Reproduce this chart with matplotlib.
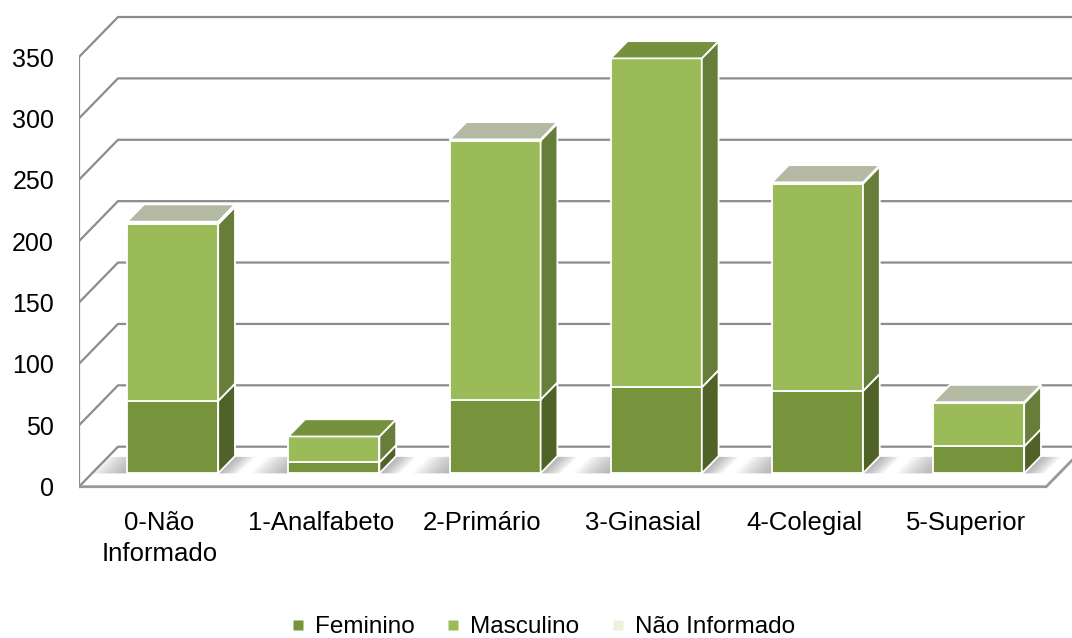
import matplotlib
matplotlib.use('Agg')
import matplotlib.pyplot as plt
from matplotlib.patches import Polygon, Rectangle
from matplotlib.lines import Line2D

# ---------------- data ----------------
categories = ['0-Não\nInformado', '1-Analfabeto', '2-Primário', '3-Ginasial', '4-Colegial', '5-Superior']
feminino = [59, 9, 60, 70, 67, 22]
masculino = [144, 21, 211, 268, 169, 35]
nao_informado = [2, 0, 1, 0, 1, 1]
series_names = ['Feminino', 'Masculino', 'Não Informado']
yticks = [0, 50, 100, 150, 200, 250, 300, 350]

# ---------------- style ----------------
FONT = 'Liberation Sans'
plt.rcParams['font.family'] = [FONT, 'DejaVu Sans']

front_cols = ['#77933C', '#9BBB59', '#EBF1DE']
side_cols = ['#4F6228', '#677D3A', '#C9CEBA']
top_cols = ['#6B8536', '#76913D', '#B4B9A4']
grid_col = '#8C8C8C'

W, H = 1072, 638
PXX = 161.2      # pixels per category unit
PXY = 1.2277     # pixels per value unit
DX = 39 / PXX    # wall depth (x)
DY = 40 / PXY    # wall depth (y, value units)
F0 = 0.335       # bar front position (fraction of depth)
BD = 0.43        # bar depth (fraction of depth)
BW = 0.565       # bar width
n = len(categories)

fig = plt.figure(figsize=(W / 100, H / 100), dpi=100)
left_px, right_px, top_px, bot_px, zero_px = 79, 1072, 0, 494, 486.7
ax = fig.add_axes([left_px / W, (H - bot_px) / H, (right_px - left_px) / W, (bot_px - top_px) / H])
ax.set_xlim(-0.5, -0.5 + (right_px - left_px) / PXX)
ax.set_ylim(-(bot_px - zero_px) / PXY, (zero_px - top_px) / PXY)
for s in ax.spines.values():
    s.set_visible(False)

xmax = ax.get_xlim()[1] + 1
# back wall gridlines (with diagonal on left wall)
for v in yticks:
    ax.plot([-0.5, -0.5 + DX, xmax], [v, v + DY, v + DY], color=grid_col, lw=1.6,
            solid_joinstyle='miter', zorder=1)
# left wall front edge
ax.plot([-0.5, -0.5], [yticks[0], yticks[-1]], color=grid_col, lw=1.6, zorder=1)
# floor front edge
ax.plot([-0.5, n - 0.5, n - 0.5 + DX], [0, 0, DY], color='#999999', lw=2.0,
        solid_joinstyle='miter', zorder=1)

bdx, bdy = BD * DX, BD * DY
for i in range(n):
    x0 = i - BW / 2 + F0 * DX
    base = F0 * DY
    # soft shadow on the floor
    for k in range(12):
        el = 0.01 + k * 0.02
        er = 0.004 + k * 0.011
        poly = [(x0 - el, base), (x0 + BW + er, base),
                (x0 + BW + er + bdx, base + bdy * 0.95), (x0 - el + bdx, base + bdy * 0.95)]
        ax.add_patch(Polygon(poly, closed=True, facecolor='#6e6e6e', edgecolor='none',
                             alpha=0.055, zorder=2))
    vals = [feminino[i], masculino[i], nao_informado[i]]
    y = base
    last = max(j for j in range(3) if vals[j] > 0)
    for j, v in enumerate(vals):
        if v <= 0:
            continue
        yb, yt = y, y + v
        ax.add_patch(Rectangle((x0, yb), BW, v, facecolor=front_cols[j], edgecolor='white',
                               lw=1.3, zorder=3))
        side = [(x0 + BW, yb), (x0 + BW + bdx, yb + bdy), (x0 + BW + bdx, yt + bdy), (x0 + BW, yt)]
        ax.add_patch(Polygon(side, closed=True, facecolor=side_cols[j], edgecolor='white',
                             lw=1.3, zorder=3))
        if j == last:
            top = [(x0, yt), (x0 + bdx, yt + bdy), (x0 + BW + bdx, yt + bdy), (x0 + BW, yt)]
            ax.add_patch(Polygon(top, closed=True, facecolor=top_cols[j], edgecolor='white',
                                 lw=1.3, zorder=3))
        y = yt

ax.set_yticks(yticks)
ax.set_yticklabels([str(t) for t in yticks])
ax.set_xticks(range(n))
ax.set_xticklabels(categories, linespacing=1.4)
ax.tick_params(axis='y', length=0, pad=18, labelsize=18)
ax.tick_params(axis='x', length=0, pad=12, labelsize=18.5)

handles = [Line2D([], [], marker='s', linestyle='', markersize=7.5,
                  markerfacecolor=front_cols[j], markeredgecolor='none') for j in range(3)]
fig.legend(handles, series_names, loc='center', bbox_to_anchor=(542 / W, 1 - 627 / H),
           ncol=3, frameon=False, fontsize=17.5, handlelength=0.7, handletextpad=0.35,
           columnspacing=1.23, borderaxespad=0, borderpad=0)

fig.savefig('out.png', dpi=100)
